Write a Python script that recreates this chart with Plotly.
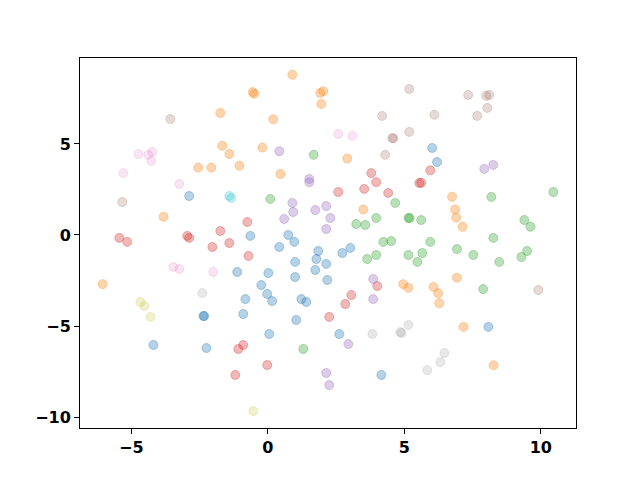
import plotly.graph_objects as go

# tab10 colours, one cluster per class
COLORS = {
    "blue": (31, 119, 180), "orange": (255, 127, 14), "green": (44, 160, 44),
    "red": (214, 39, 40), "purple": (148, 103, 189), "brown": (140, 86, 75),
    "pink": (227, 119, 194), "gray": (127, 127, 127), "olive": (188, 189, 34),
    "cyan": (23, 190, 207),
}

blue = [(6.02, 4.78), (6.2, 4.01), (-2.88, 2.14), (-0.64, -0.05), (-1.12, -2.03), (-0.82, -3.52),
        (0.75, 0.0), (0.97, -0.38), (0.42, -0.66), (1.85, -0.88), (1.78, -1.32), (2.14, -1.59),
        (2.73, -0.99), (3.02, -0.71), (1.0, -1.48), (1.74, -1.92), (0.02, -2.09), (1.0, -2.31),
        (2.18, -2.47), (-0.24, -2.75), (-0.02, -3.24), (0.16, -3.63), (1.23, -3.52), (1.41, -3.68),
        (1.04, -4.67), (-0.9, -4.34), (0.05, -5.44), (2.62, -5.44), (4.16, -7.69), (-2.36, -4.45),
        (-2.33, -4.45), (-4.19, -6.04), (-2.25, -6.21), (8.08, -5.05)]
orange = [(0.9, 8.8), (-0.55, 7.85), (-0.5, 7.75), (2.03, 7.9), (1.92, 7.8), (1.96, 7.2),
          (0.2, 6.35), (-1.74, 6.7), (-0.2, 4.8), (2.91, 4.2), (0.46, 3.35), (-1.67, 4.9),
          (-1.41, 4.45), (-2.55, 3.7), (-2.07, 3.7), (-1.04, 3.8), (3.5, 1.4), (4.96, -2.7),
          (5.15, -2.9), (6.75, 2.1), (6.86, 1.4), (6.9, 0.95), (7.13, 0.45), (6.93, -2.35),
          (6.07, -2.85), (6.24, -3.2), (6.28, -3.75), (7.17, -5.05), (8.27, -7.15), (-3.82, 1.0),
          (-6.05, -2.7)]
green = [(1.68, 4.4), (0.09, 1.98), (4.67, 1.76), (3.24, 0.6), (3.57, 0.55), (3.97, 0.93),
         (5.15, 0.93), (5.2, 0.93), (4.23, -0.38), (4.52, -0.33), (3.64, -1.32), (3.97, -1.1),
         (5.15, -1.1), (10.46, 2.36), (8.19, 2.09), (5.62, 0.82), (9.4, 0.82), (9.62, 0.45),
         (5.95, -0.38), (8.26, -0.16), (6.93, -0.77), (5.66, -0.99), (5.48, -1.48), (7.53, -1.1),
         (8.48, -1.48), (9.29, -1.21), (9.5, -0.88), (7.89, -2.97), (1.3, -6.26)]
red = [(3.79, 3.4), (3.97, 2.9), (5.95, 3.55), (5.55, 2.85), (5.62, 2.87), (2.58, 2.36),
       (3.53, 2.53), (4.41, 2.31), (-0.75, 0.71), (-0.71, -1.15), (4.01, -2.8), (3.06, -3.3),
       (2.84, -3.79), (-5.44, -0.16), (-5.15, -0.38), (-2.95, -0.05), (-2.88, -0.16),
       (-1.74, 0.22), (-2.03, -0.66), (-1.41, -0.44), (-0.9, -6.04), (-1.08, -6.26),
       (-1.19, -7.69), (2.25, -4.5), (-0.02, -7.14)]
purple = [(0.42, 4.6), (1.52, 3.08), (1.52, 2.9), (8.26, 3.85), (7.93, 3.63), (0.9, 1.76),
          (0.93, 1.26), (0.6, 0.88), (1.74, 1.37), (2.14, 1.59), (2.29, 0.93), (2.14, 0.33),
          (3.86, -2.42), (3.86, -3.52), (2.95, -5.99), (2.14, -7.58), (2.25, -8.24)]
brown = [(-3.57, 6.37), (5.18, 8.02), (4.19, 6.54), (5.18, 5.66), (4.56, 5.33), (4.6, 5.3),
         (4.3, 4.4), (7.34, 7.69), (8.0, 7.64), (8.11, 7.69), (8.04, 6.98), (6.1, 6.6),
         (7.67, 6.54), (-5.33, 1.81), (9.91, -3.02)]
pink = [(-4.74, 4.45), (-4.38, 4.4), (-4.23, 4.56), (-4.27, 4.07), (-5.29, 3.4), (-3.24, 2.8),
        (2.58, 5.55), (3.1, 5.44), (-3.46, -1.76), (-3.24, -1.87), (-2.0, -2.03)]
gray = [(-2.4, -3.19), (3.83, -5.44), (4.85, -5.33), (4.9, -5.38), (5.15, -4.94), (6.47, -6.48),
        (6.32, -6.98), (5.84, -7.42)]
olive = [(-4.67, -3.68), (-4.52, -3.9), (-4.3, -4.5), (-0.53, -9.67)]
cyan = [(-1.41, 2.14), (-1.34, 2.03)]

groups = [("blue", blue), ("orange", orange), ("green", green), ("red", red), ("purple", purple),
          ("brown", brown), ("pink", pink), ("gray", gray), ("olive", olive), ("cyan", cyan)]

# the paler classes look more transparent in the reference
ALPHA = {"brown": 0.22, "pink": 0.2, "gray": 0.18, "olive": 0.22, "cyan": 0.25}

fig = go.Figure()
for name, pts in groups:
    r, g, b = COLORS[name]
    rgba = f"rgba({r},{g},{b},{ALPHA.get(name, 0.33)})"
    fig.add_trace(go.Scatter(
        x=[p[0] for p in pts], y=[p[1] for p in pts], mode="markers", name=name,
        marker=dict(size=9, color=rgba, line=dict(width=1, color=rgba)),
    ))

axis = dict(showgrid=False, zeroline=False, showline=True, linecolor="black", linewidth=1,
            mirror=True, ticks="outside", ticklen=5, tickwidth=1, tickcolor="black",
            tickfont=dict(family="DejaVu Sans", size=16, color="black", weight="bold"))

# page body has an 8px margin, so shrink the figure to keep the axes where they belong
fig.update_layout(
    width=632, height=472, showlegend=False,
    plot_bgcolor="white", paper_bgcolor="white",
    margin=dict(l=72, r=64, t=50, b=52),
    xaxis=dict(range=[-6.88, 11.29], tickvals=[-5, 0, 5, 10], **axis),
    yaxis=dict(range=[-10.6, 9.72], tickvals=[-10, -5, 0, 5], **axis),
)

fig.write_html("out.html")
